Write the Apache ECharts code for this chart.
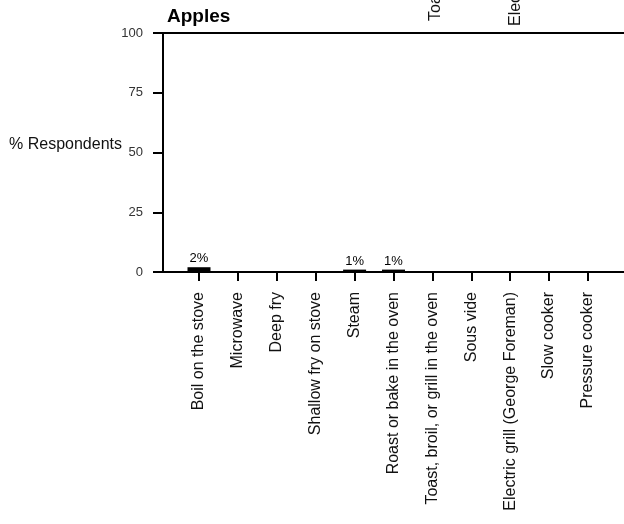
<!DOCTYPE html>
<html>
<head>
<meta charset="utf-8">
<script src="https://cdn.jsdelivr.net/npm/echarts@6/dist/echarts.min.js"></script>
<style>html,body{margin:0;padding:0;background:#fff;}#c{width:624px;height:524px;}</style>
</head>
<body>
<div id="c"></div>
<script>
const categories = ["Boil on the stove","Microwave","Deep fry","Shallow fry on stove","Steam","Roast or bake in the oven","Toast, broil, or grill in the oven","Sous vide","Electric grill (George Foreman)","Slow cooker","Pressure cooker"];
const values = [2,0,0,0,1,1,0,0,0,0,0];
const yTicks = [0,25,50,75,100];
const upperPanelLabels = ["Toast, broil, or grill in the oven","Electric grill (George Foreman)"];
const titleText = "Apples";
const yName = "% Respondents";

const FONT = "'Liberation Sans', Arial, sans-serif";
const idx = categories.map((_, i) => i);
const chart = echarts.init(document.getElementById('c'), null, {renderer:'canvas'});
chart.setOption({
  backgroundColor:'#fff',
  animation:false,
  title:{text:titleText,left:167,top:7,padding:0,textStyle:{fontFamily:FONT,fontSize:19,fontWeight:'bold',color:'#000'}},
  grid:{left:163,top:33,width:470,bottom:252,outerBoundsMode:'none',containLabel:false,show:true,borderColor:'#000',borderWidth:2,backgroundColor:'#fff'},
  xAxis:{type:'value',min:-0.9254,max:11.157,
    axisLine:{show:true,onZero:false,lineStyle:{color:'#000',width:1.5}},
    splitLine:{show:false},
    axisTick:{show:true,length:9,lineStyle:{color:'#000',width:2},customValues:idx},
    axisLabel:{show:true,rotate:90,margin:20,fontFamily:FONT,fontSize:16,color:'#111',customValues:idx,formatter:v=>categories[Math.round(v)]}
  },
  yAxis:{type:'value',min:yTicks[0],max:yTicks[yTicks.length-1],interval:25,
    name:yName,nameLocation:'middle',nameRotate:0,nameGap:41,nameMoveOverlap:false,
    nameTextStyle:{fontFamily:FONT,fontSize:16,color:'#111',align:'right',verticalAlign:'bottom'},
    axisLine:{show:true,onZero:false,lineStyle:{color:'#000',width:2}},
    splitLine:{show:false},
    axisTick:{show:true,length:10,lineStyle:{color:'#000',width:2}},
    axisLabel:{margin:20,fontFamily:FONT,fontSize:13,color:'#333'}
  },
  series:[{type:'bar',barWidth:23,itemStyle:{color:'#000'},
    data:values.map((v,i)=>[i,v]),
    label:{show:true,position:'top',distance:2,fontFamily:FONT,fontSize:13,color:'#000',
      formatter:p=>p.value[1]>0?p.value[1]+'%':''}
  }],
  graphic:[
    {type:'text',x:436,y:21,rotation:Math.PI/2,style:{text:upperPanelLabels[0],fontFamily:FONT,fontSize:16,fill:'#111',align:'left',verticalAlign:'middle'}},
    {type:'text',x:516,y:26,rotation:Math.PI/2,style:{text:upperPanelLabels[1],fontFamily:FONT,fontSize:16,fill:'#111',align:'left',verticalAlign:'middle'}}
  ]
});
</script>
</body>
</html>
